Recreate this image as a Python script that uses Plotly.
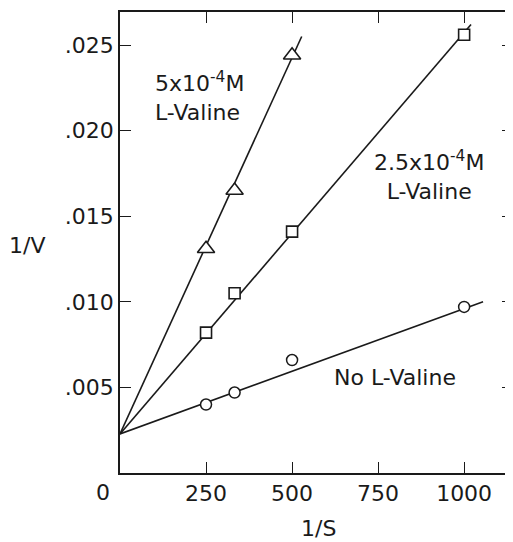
import plotly.graph_objects as go

# ---- data ----
inv_s = [250, 333, 500, 1000]
inv_v_none = [0.0040, 0.0047, 0.0066, 0.0097]
inv_v_25 = [0.0082, 0.0105, 0.0141, 0.0256]
inv_s_5 = [250, 333, 500]
inv_v_5 = [0.0131, 0.0165, 0.0244]

fit_none_x = [0, 1055]
fit_none_y = [0.00228, 0.0100]
fit_25_x = [0, 1020]
fit_25_y = [0.00228, 0.0262]
fit_5_x = [0, 528]
fit_5_y = [0.00228, 0.0255]

x_ticks = [250, 500, 750, 1000]
x_tick_text = ["250", "500", "750", "1000"]
y_ticks = [0.005, 0.010, 0.015, 0.020, 0.025]
y_tick_text = [".005", ".010", ".015", ".020", ".025"]

FONT = "DejaVu Sans"
FS = 22
INK = "#1a1a1a"

fig = go.Figure()
for fx, fy in [(fit_none_x, fit_none_y), (fit_25_x, fit_25_y), (fit_5_x, fit_5_y)]:
    fig.add_trace(go.Scatter(x=fx, y=fy, mode="lines",
                             line=dict(color=INK, width=1.6),
                             showlegend=False, hoverinfo="skip"))

fig.add_trace(go.Scatter(x=inv_s, y=inv_v_none, mode="markers",
                         marker=dict(symbol="circle", size=11, color="white",
                                     line=dict(color=INK, width=1.5)),
                         showlegend=False))
fig.add_trace(go.Scatter(x=inv_s, y=inv_v_25, mode="markers",
                         marker=dict(symbol="square", size=11, color="white",
                                     line=dict(color=INK, width=1.6)),
                         showlegend=False))
fig.add_trace(go.Scatter(x=inv_s_5, y=inv_v_5, mode="markers",
                         marker=dict(symbol="triangle-up", size=15, color="white",
                                     line=dict(color=INK, width=1.6)),
                         showlegend=False))

# right-hand tick marks without a frame line
fig.add_trace(go.Scatter(x=[None], y=[None], yaxis="y2", showlegend=False))

# page body has an 8px margin, so the figure is 8px smaller each way
fig.update_layout(
    width=505, height=534,
    margin=dict(l=112, r=0, t=4, b=69),
    paper_bgcolor="white", plot_bgcolor="white",
    font=dict(family=FONT, size=FS, color=INK),
    xaxis=dict(range=[0, 1142], tickvals=x_ticks, ticktext=x_tick_text,
               ticks="inside", ticklen=11, tickwidth=1.3, tickcolor=INK,
               showline=True, linecolor=INK, linewidth=1.5, mirror="ticks",
               showgrid=False, zeroline=False,
               tickfont=dict(family=FONT, size=FS, color=INK)),
    yaxis=dict(range=[0, 0.02693], tickvals=y_ticks, ticktext=y_tick_text,
               ticks="inside", ticklen=11, tickwidth=1.3, tickcolor=INK,
               showline=True, linecolor=INK, linewidth=1.5,
               showgrid=False, zeroline=False,
               tickfont=dict(family=FONT, size=FS, color=INK)),
    yaxis2=dict(range=[0, 0.02693], overlaying="y", side="right",
                tickvals=y_ticks, ticks="inside", ticklen=11, tickwidth=1.3,
                tickcolor=INK, showticklabels=False, showline=False,
                showgrid=False, zeroline=False),
)

ann = [
    dict(x=0, y=0, xref="x", yref="y", text="0", showarrow=False,
         xanchor="center", yanchor="top", xshift=-17, yshift=-5,
         font=dict(size=FS)),
    dict(x=0.505, y=0, xref="paper", yref="paper", text="1/S", showarrow=False,
         xanchor="center", yanchor="top", yshift=-41, font=dict(size=FS)),
    dict(x=0, y=0.5, xref="paper", yref="paper", text="1/V", showarrow=False,
         xanchor="center", yanchor="middle", xshift=-93, yshift=-3,
         font=dict(size=FS)),
    dict(x=95, y=0.0220, xref="x", yref="y",
         text="5x10<sup>-4</sup>M<br>L-Valine", showarrow=False,
         xanchor="left", yanchor="middle", align="left", font=dict(size=FS)),
    dict(x=898, y=0.0174, xref="x", yref="y",
         text="2.5x10<sup>-4</sup>M<br>L-Valine", showarrow=False,
         xanchor="center", yanchor="middle", align="center", font=dict(size=FS)),
    dict(x=800, y=0.0056, xref="x", yref="y", text="No L-Valine",
         showarrow=False, xanchor="center", yanchor="middle", font=dict(size=FS)),
]
fig.update_layout(annotations=ann)

fig.write_html("out.html")
